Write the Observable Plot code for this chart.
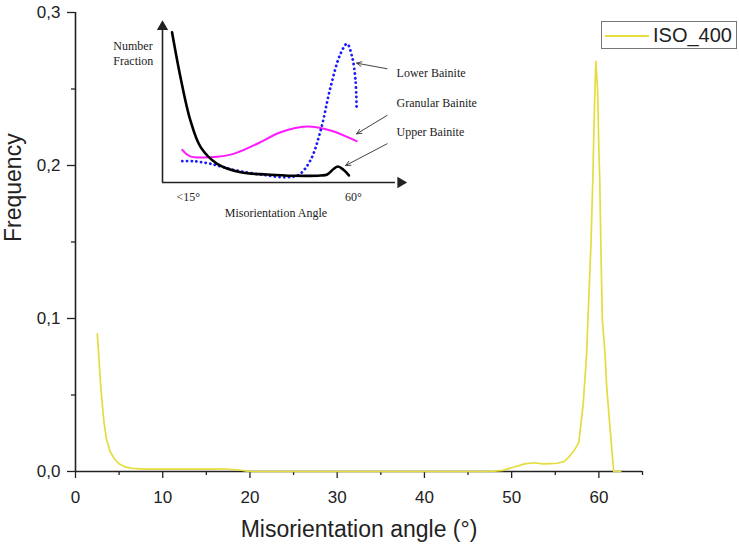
<!DOCTYPE html>
<html>
<head>
<meta charset="utf-8">
<script src="https://cdn.jsdelivr.net/npm/d3@7"></script>
<script src="https://cdn.jsdelivr.net/npm/@observablehq/plot@0.6"></script>
<style>
  body { margin: 0; background: #fff; }
  #wrap { position: relative; width: 739px; height: 547px; overflow: hidden; }
  #wrap svg { background: transparent !important; }
  #main { position: absolute; left: 0; top: 0; }
  #inset { position: absolute; left: 100px; top: 0; }
  #legend { position: absolute; left: 601px; top: 21px; width: 134px; height: 26px;
            border: 1px solid #777; background: #fff; font-family: "Liberation Sans", Arial, sans-serif; }
  #legend .sw { position: absolute; left: 3px; top: 13px; width: 44px; height: 2px; background: #e5dd3f; display: block; }
  #legend .lb { position: absolute; left: 51px; top: 0; line-height: 27px; font-size: 20px; color: #222; }
</style>
</head>
<body>
<div id="wrap">
  <div id="main"></div>
  <div id="inset"></div>
  <div id="legend"><span class="sw"></span><span class="lb">ISO_400</span></div>
</div>
<script>
// ---- main series: ISO_400 (misorientation angle in degrees, frequency) ----
const angle = [2.5, 2.9, 3.25, 3.55, 4.0, 4.5, 5.0, 5.7, 6.5, 8, 10, 12, 14, 16, 17, 18, 19, 19.7, 20,
  25, 30, 35, 40, 45, 47, 48, 49, 50.2, 51.5, 52.5, 53.6, 54.5, 55.2, 56.0, 56.5, 57.2, 57.7, 58.2, 58.6,
  58.75, 59.1, 59.3, 59.5, 59.65, 59.85, 60.0, 60.1, 60.25, 60.4, 60.7, 60.9, 61.3, 61.7, 62.5];
const frequency = [0.090, 0.055, 0.033, 0.021, 0.0126, 0.008, 0.005, 0.003, 0.002, 0.0016, 0.0015, 0.0015, 0.0015, 0.0016, 0.0018, 0.0013, 0.0008, 0.0002, 0,
  0, 0, 0, 0, 0, 0, 0.0003, 0.0007, 0.0028, 0.005, 0.0057, 0.005, 0.0052, 0.0054, 0.0065, 0.009, 0.014, 0.019, 0.044, 0.077,
  0.10, 0.15, 0.19, 0.24, 0.268, 0.25, 0.21, 0.19, 0.14, 0.099, 0.077, 0.055, 0.027, 0, 0];

const xMajor = [0, 10, 20, 30, 40, 50, 60];
const xMinor = [5, 15, 25, 35, 45, 55, 65];
const yMajor = [0, 0.1, 0.2, 0.3];
const yMinor = [0.05, 0.15, 0.25];

// ---- inset (schematic, arbitrary number-fraction units 0..100, angle in degrees) ----
const upperAngle = [10.6, 12.9, 15.6, 18.4, 22.9, 29.3, 36.5, 43.7, 51.1, 52.9, 54.7, 55.8, 57.25, 58.8];
const upperFrac  = [93.9, 65.8, 38.8, 22.1, 11.7, 6.4, 5.0, 4.2, 4.4, 5.0, 8.6, 10.0, 8.1, 4.4];
const lowerAngle = [13.4, 16.5, 21.1, 27.35, 34.7, 42.0, 45.15, 48.3, 51.1, 53.8, 56.5, 58.3, 59.7, 60.6, 60.9];
const lowerFrac  = [13.3, 13.3, 11.7, 7.9, 5.0, 3.3, 4.8, 13.8, 32.5, 59.6, 80.4, 86.7, 78.3, 63.8, 47.1];
const granAngle  = [13.4, 15.6, 21.1, 27.35, 33.8, 40.2, 47.4, 53.8, 60.9];
const granFrac   = [20.4, 16.3, 15.8, 17.9, 24.2, 31.4, 35.0, 32.5, 25.8];

const insetLabels = ["Lower Bainite", "Granular Bainite", "Upper Bainite"];
const labelFrac = [68.2, 49.9, 31.3];
const arrowFrom = [[69.2, 71.1], [69.2, 41.9], [69.2, 24.2]];
const arrowTo   = [[60.9, 74.6], [60.9, 30.4], [57.9, 10.6]];

const sans = "'Liberation Sans', Arial, Helvetica, sans-serif";
const serif = "'Liberation Serif', 'Times New Roman', Times, serif";
const ink = "#222";

const main = Plot.plot({
  width: 739, height: 547,
  marginLeft: 75, marginRight: 97, marginTop: 12, marginBottom: 76,
  x: {domain: [0, 65], label: null, axis: null},
  y: {domain: [0, 0.3], label: null, axis: null},
  style: {fontFamily: sans, fontSize: "17px", color: ink, background: "transparent"},
  marks: [
    Plot.axisX(xMinor, {tickSize: 4, tickFormat: () => "", stroke: ink, strokeWidth: 1.3, label: null}),
    Plot.axisX(xMajor, {tickSize: 7, tickPadding: 12, tickFormat: d => String(d), stroke: ink, strokeWidth: 1.3, fontSize: 17, label: null}),
    Plot.axisY(yMinor, {tickSize: 4, tickFormat: () => "", stroke: ink, strokeWidth: 1.3, label: null}),
    Plot.axisY(yMajor, {tickSize: 8, tickPadding: 7, tickFormat: d => d.toFixed(1).replace(".", ","), stroke: ink, strokeWidth: 1.3, fontSize: 17, label: null}),
    Plot.ruleX([0], {stroke: ink, strokeWidth: 1.6}),
    Plot.ruleY([0], {stroke: ink, strokeWidth: 1.6}),
    Plot.line(angle, {x: angle, y: frequency, stroke: "#e5dd3f", strokeWidth: 1.7, strokeLinejoin: "round"}),
    Plot.text(["Misorientation angle (°)"], {frameAnchor: "bottom", dy: 58.6, fontSize: 23, fill: ink, lineAnchor: "middle"}),
    Plot.text(["Frequency"], {frameAnchor: "left", dx: -61.6, rotate: -90, fontSize: 23, fill: ink, lineAnchor: "middle"})
  ]
});
document.getElementById("main").append(main);

const inset = Plot.plot({
  width: 420, height: 230,
  marginLeft: 0, marginRight: 0, marginTop: 0, marginBottom: 0,
  x: {domain: [8, 74.5], range: [62, 306], axis: null, label: null},
  y: {domain: [0, 100], range: [182, 22], axis: null, label: null},
  style: {fontFamily: serif, fontSize: "12px", color: ink, background: "transparent"},
  marks: [
    Plot.ruleX([8], {y1: 0, y2: 95, stroke: ink, strokeWidth: 1.6}),
    Plot.ruleY([0], {x1: 8, x2: 71.5, stroke: ink, strokeWidth: 1.6}),
    Plot.dot([0], {x: 8, y: 97.3, symbol: "triangle", r: 4.2, fill: ink, stroke: "none"}),
    Plot.dot([0], {x: 72.9, y: 0, symbol: "triangle", r: 4.2, fill: ink, stroke: "none", rotate: 90}),
    Plot.line(granAngle, {x: granAngle, y: granFrac, curve: "catmull-rom", stroke: "#ff1aff", strokeWidth: 2}),
    Plot.line(lowerAngle, {x: lowerAngle, y: lowerFrac, curve: "catmull-rom", stroke: "#1a1aff", strokeWidth: 2.8,
      strokeDasharray: "0.1 4.6", strokeLinecap: "round"}),
    Plot.line(upperAngle, {x: upperAngle, y: upperFrac, curve: "catmull-rom", stroke: "#000", strokeWidth: 2.6}),
    Plot.arrow(insetLabels, {
      x1: (d, i) => arrowFrom[i][0], y1: (d, i) => arrowFrom[i][1],
      x2: (d, i) => arrowTo[i][0], y2: (d, i) => arrowTo[i][1],
      stroke: "#444", strokeWidth: 1, headLength: 8, headAngle: 50
    }),
    Plot.text(insetLabels, {x: 71.8, y: labelFrac, text: d => d, textAnchor: "start", lineAnchor: "middle", fill: ink, fontSize: 12}),
    Plot.text(["Number\nFraction"], {x: -5.4, y: 81.25, textAnchor: "start", lineAnchor: "middle", lineHeight: 1.25, fill: ink, fontSize: 12}),
    Plot.text(["<15°", "60°"], {x: [15, 60], y: [-9.3, -9.3], lineAnchor: "middle", fill: ink, fontSize: 12}),
    Plot.text(["Misorientation Angle"], {x: 38.9, y: -19.3, lineAnchor: "middle", fill: ink, fontSize: 12})
  ]
});
document.getElementById("inset").append(inset);
</script>
</body>
</html>
